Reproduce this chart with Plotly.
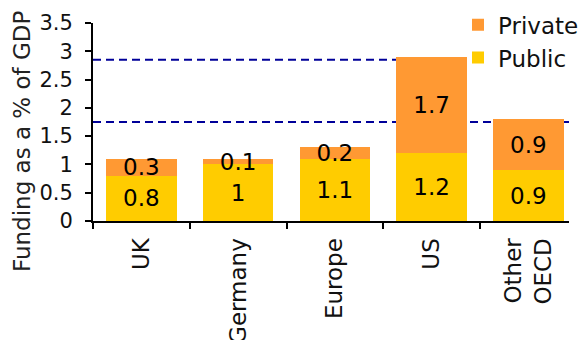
import plotly.graph_objects as go

# Research funding by source, % of GDP
regions = ["UK", "Germany", "Europe", "US", "Other<br>OECD"]
public = [0.8, 1.0, 1.1, 1.2, 0.9]
private = [0.3, 0.1, 0.2, 1.7, 0.9]
reference_levels = [2.85, 1.75]
y_ticks = [0, 0.5, 1, 1.5, 2, 2.5, 3, 3.5]

FONT = "DejaVu Sans"
FS = 23
PUBLIC_COLOR = "#FFCC00"
PRIVATE_COLOR = "#FF9933"
BAR_WIDTH = 0.73
X_RANGE = [-0.5, 4.42]

fig = go.Figure()
for name, vals, color in [("Public", public, PUBLIC_COLOR), ("Private", private, PRIVATE_COLOR)]:
    fig.add_trace(go.Bar(
        x=regions, y=vals, name=name,
        marker=dict(color=color, line=dict(width=0)),
        text=[f"{v:g}" for v in vals],
        textposition="inside", insidetextanchor="middle",
        textangle=0, constraintext="none",
        textfont=dict(family=FONT, size=FS, color="black"),
        width=BAR_WIDTH,
    ))

for lvl in reference_levels:
    fig.add_shape(type="line", xref="paper", x0=0, x1=1, yref="y", y0=lvl, y1=lvl,
                  line=dict(color="#000099", width=2, dash="8px,5px"), layer="below")

# white backing behind the legend, starting at the right edge of the US bar
us_right = (regions.index("US") + BAR_WIDTH / 2 - X_RANGE[0]) / (X_RANGE[1] - X_RANGE[0])
fig.add_shape(type="rect", xref="paper", x0=us_right, x1=1, yref="y", y0=2.6, y1=3.5,
              fillcolor="white", line=dict(width=0), layer="below")

fig.add_annotation(text="Funding as a % of GDP", textangle=-90,
                   xref="paper", yref="paper", x=-0.1487, y=0.405,
                   xanchor="center", yanchor="middle", showarrow=False,
                   font=dict(family=FONT, size=FS, color="#222"))

fig.update_layout(
    width=584, height=340,
    margin=dict(l=93, r=0, t=23, b=119),
    barmode="stack",
    plot_bgcolor="white", paper_bgcolor="white",
    font=dict(family=FONT, size=FS, color="#111"),
    showlegend=True,
    legend=dict(traceorder="reversed", x=0.767, y=1.1, xanchor="left", yanchor="top",
                bgcolor="rgba(0,0,0,0)", font=dict(family=FONT, size=FS),
                itemwidth=30, tracegroupgap=0),
    xaxis=dict(range=X_RANGE, showline=True, linecolor="black", linewidth=2,
               ticks="outside", tickson="boundaries", ticklen=6, tickwidth=2, tickcolor="black",
               tickangle=-90, tickfont=dict(family=FONT, size=FS, color="#111"),
               ticklabelstandoff=6, automargin=False,
               showgrid=False, zeroline=False),
    yaxis=dict(range=[0, 3.5], tickvals=y_ticks, showline=True, linecolor="black", linewidth=2,
               ticks="outside", ticklen=6, tickwidth=2, tickcolor="black",
               tickfont=dict(family=FONT, size=21, color="#111"),
               ticklabelstandoff=8, automargin=False,
               showgrid=False, zeroline=False),
)

fig.write_html("out.html")
